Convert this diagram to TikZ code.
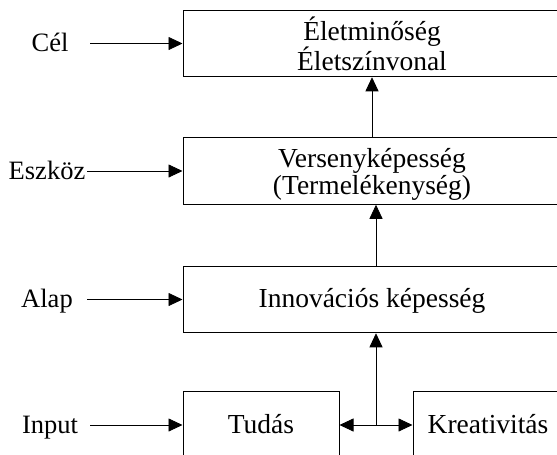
\documentclass[tikz,border=0pt]{standalone}
\usepackage{fontspec}
\setmainfont{Liberation Serif}
\usetikzlibrary{calc,arrows.meta}

\begin{document}
\begin{tikzpicture}[x=1pt, y=-1pt,
		txt/.style={font=\fontsize{26.5}{27}\selectfont, inner sep=0pt},
		blk/.style={txt, font=\fontsize{27.5}{27}\selectfont, draw, line width=1pt, align=center, minimum height=66.5pt},
		one/.style={text height=19pt, text depth=3pt},
		lbl/.style={txt, one, minimum width=80pt},
		arr/.style={line width=0.8pt, -{Triangle[length=14pt, width=13pt]}}]
			%%%%% START %%%%%
			
			\useasboundingbox (0, 0) rectangle (557, 455);
			\clip (0, 0) rectangle (557, 455);
			
			\node[blk, minimum width=378pt, text depth=0pt] (elet) at (372, 43.5) {Életminőség\\Életszínvonal};
			\node[blk, minimum width=378pt, text depth=-4pt] (verseny) at (372, 171) {Versenyképesség\\(Termelékenység)};
			\node[blk, one, minimum width=378pt] (innov) at (372, 299.5) {Innovációs képesség};
			\node[blk, one, minimum width=156pt] (tudas) at (261, 425) {Tudás};
			\node[blk, one, minimum width=150pt] (kreat) at (488, 425) {Kreativitás};
			
			\node[lbl] (cel) at (50, 43.5) {Cél};
			\node[lbl] (eszkoz) at (47, 171) {Eszköz};
			\node[lbl] (alap) at (47, 299.5) {Alap};
			\node[lbl] (input) at (50, 425) {Input};
			
			\draw[arr] (cel) -- (elet);
			\draw[arr] (eszkoz) -- (verseny);
			\draw[arr] (alap) -- (innov);
			\draw[arr] (input) -- (tudas);
			
			\coordinate (mid) at ($(tudas.east)!0.5!(kreat.west)$);
			\draw[arr] (mid) -- (tudas.east);
			\draw[arr] (mid) -- (kreat.west);
			\draw[arr] (mid) -- (mid |- innov.south);
			\draw[arr] (innov.north -| mid) -- (mid |- verseny.south);
			\draw[arr] (verseny.north) -- (elet.south);
			
			%%%%% END %%%%%
		\end{tikzpicture}
\end{document}
